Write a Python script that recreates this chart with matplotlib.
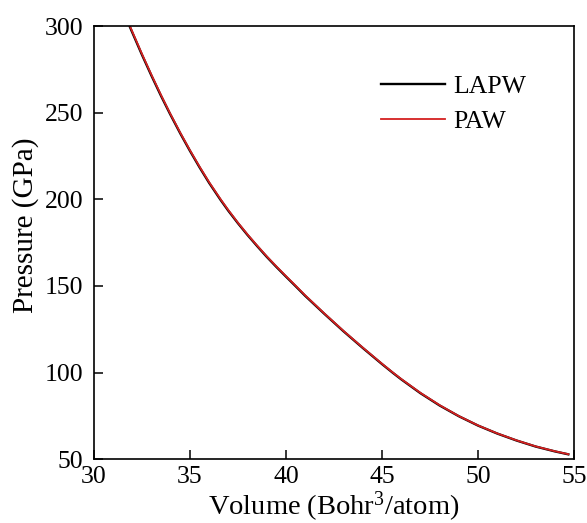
import matplotlib
matplotlib.use("Agg")
import matplotlib.pyplot as plt

plt.rcParams["font.family"] = ["Liberation Serif", "DejaVu Serif"]
plt.rcParams["mathtext.fontset"] = "custom"
plt.rcParams["mathtext.rm"] = "Liberation Serif"
plt.rcParams["mathtext.it"] = "Liberation Serif:italic"

# Equation-of-state curves: volume (Bohr^3/atom) vs pressure (GPa)
volume = [31.875, 32.5, 33.0, 33.5, 33.96, 34.5, 35.0, 35.5, 36.0, 36.6, 37.0, 37.5,
          38.0, 38.5, 39.0, 39.5, 40.0, 40.5, 41.0, 42.0, 43.0, 44.0, 45.0, 45.57,
          46.0, 47.0, 48.0, 49.0, 50.0, 51.0, 52.0, 53.0, 54.0, 54.7]
pressure_paw = [300.0, 284.0, 271.8, 260.1, 249.8, 238.4, 228.4, 218.9, 209.9, 200.0,
                193.8, 186.5, 179.7, 173.3, 167.1, 161.3, 155.7, 150.2, 144.6, 134.1,
                124.0, 114.4, 105.1, 100.0, 96.3, 88.3, 81.2, 74.9, 69.5, 64.9, 60.9,
                57.4, 54.6, 52.9]
pressure_lapw = [299.5, 283.5, 271.3, 259.6, 249.4, 238.0, 228.0, 218.5, 209.5, 199.6,
                 193.4, 186.2, 179.4, 173.0, 166.8, 161.0, 155.4, 149.9, 144.3, 133.9,
                 123.8, 114.2, 104.9, 99.8, 96.1, 88.1, 81.0, 74.8, 69.4, 64.8, 60.8,
                 57.3, 54.5, 52.8]

x_ticks = [30, 35, 40, 45, 50, 55]
y_ticks = [50, 100, 150, 200, 250, 300]

fig = plt.figure(figsize=(5.87, 5.23), dpi=100)
ax = fig.add_axes([0.160, 0.122, 0.818, 0.828])

ax.plot(volume, pressure_lapw, color="black", lw=1.7, label="LAPW")
ax.plot(volume, pressure_paw, color="#d42020", lw=1.3, label="PAW")

ax.set_xlim(30, 55)
ax.set_ylim(50, 300)
ax.set_xticks(x_ticks)
ax.set_yticks(y_ticks)
ax.tick_params(axis="both", which="major", direction="in", length=6.5, width=1.1,
               labelsize=18.5, top=False, right=False)
ax.tick_params(axis="x", pad=5)
ax.tick_params(axis="y", pad=7.5)
for s in ax.spines.values():
    s.set_linewidth(1.2)

ax.set_xlabel("Volume (Bohr$^{3}$/atom)", fontsize=20.5, labelpad=1)
ax.set_ylabel("Pressure (GPa)", fontsize=21, labelpad=4)
ax.yaxis.label.set_y(0.54)

leg = ax.legend(loc="upper left", bbox_to_anchor=(0.55, 0.94), frameon=False,
                fontsize=18.5, handlelength=2.5, handletextpad=0.3, labelspacing=0.45)

fig.savefig("out.png", dpi=100)
